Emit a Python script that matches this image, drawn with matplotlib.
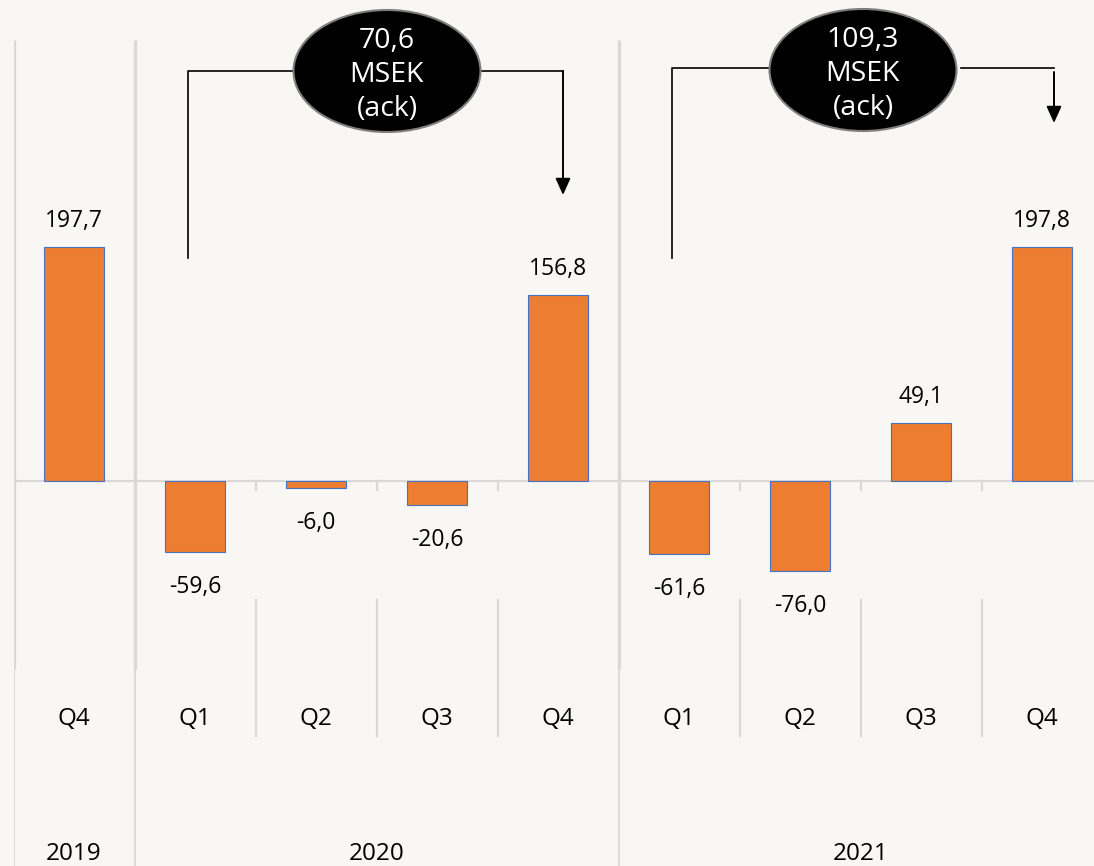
import matplotlib
matplotlib.use("Agg")
import matplotlib.pyplot as plt
from matplotlib.patches import Ellipse

# ---- data ----
years = ["2019", "2020", "2021"]
year_counts = [1, 4, 4]
quarters = ["Q4", "Q1", "Q2", "Q3", "Q4", "Q1", "Q2", "Q3", "Q4"]
values = [197.7, -59.6, -6.0, -20.6, 156.8, -61.6, -76.0, 49.1, 197.8]
cum_labels = [70.6, 109.3]

BG = "#F8F7F3"
ORANGE = "#ED7D31"
EDGE = "#4472C4"
GRID = "#D9D9D9"
FONT = ["Open Sans", "DejaVu Sans"]

W, H = 1094, 866
fig = plt.figure(figsize=(W / 100, H / 100), dpi=100, facecolor=BG)

# axes geometry in pixels
x0_px, cat_px = 13.5, 121.0
zero_px, unit_px = 481.0, 1.185
n = len(values)
ax = fig.add_axes([x0_px / W, 0, n * cat_px / W, 1])
ax.set_facecolor(BG)
ax.set_xlim(-0.5, n - 0.5)
ax.set_ylim(-(H - zero_px) / unit_px, zero_px / unit_px)
ax.axis("off")

def yfrac(px):
    return 1 - px / H

def ydata(px):
    return (zero_px - px) / unit_px

def xdata(px):
    return (px - x0_px) / cat_px - 0.5

xs = list(range(n))
ax.bar(xs, values, width=0.5, color=ORANGE, edgecolor=EDGE, linewidth=0.8, zorder=3)

# zero line
ax.axhline(0, color=GRID, lw=1.6, zorder=2)

# year separators
bounds = [-0.5]
acc = -0.5
for c in year_counts:
    acc += c
    bounds.append(acc)
tr = ax.get_xaxis_transform()
for b in bounds[:-1]:
    ax.plot([b, b], [yfrac(40), yfrac(669)], transform=tr, color=GRID, lw=2.4, zorder=1,
            solid_capstyle="butt")
    ax.plot([b, b], [yfrac(669), 0], transform=tr, color=GRID, lw=1.3, zorder=1,
            solid_capstyle="butt")

# quarter separators inside years
start = -0.5
for c in year_counts:
    for k in range(1, c):
        b = start + k
        ax.plot([b, b], [yfrac(481), yfrac(490)], transform=tr, color=GRID, lw=1.6, zorder=1)
        ax.plot([b, b], [yfrac(600), yfrac(736)], transform=tr, color=GRID, lw=1.6, zorder=1)
    start += c

# value labels
for x, v in zip(xs, values):
    lab = f"{v:.1f}".replace(".", ",")
    off = 26 if v >= 0 else -35
    ax.annotate(lab, (x, v), xytext=(0, off), textcoords="offset pixels",
                ha="center", va="center", fontsize=16.5, family=FONT, color="black", zorder=4)

# quarter labels
for x, q in zip(xs, quarters):
    ax.text(x, yfrac(719), q, transform=tr, ha="center", va="center",
            fontsize=17.5, family=FONT, color="black")

# year labels
start = -0.5
for y, c in zip(years, year_counts):
    ax.text(start + c / 2, yfrac(854), y, transform=tr, ha="center", va="center",
            fontsize=17.5, family=FONT, color="black")
    start += c

# cumulative callouts
callouts = [
    dict(cx=387, cy=71, left=188, right_start=480, arrow=563, hy=71, ldown=258, atop=71, atip=195),
    dict(cx=863, cy=70, left=672, right_start=961, arrow=1054, hy=68, ldown=258, atop=72, atip=123),
]
for val, c in zip(cum_labels, callouts):
    e = Ellipse((xdata(c["cx"]), ydata(c["cy"])), width=187 / cat_px, height=122 / unit_px,
                facecolor="black", edgecolor="#7F7F7F", lw=1.5, zorder=5)
    ax.add_patch(e)
    txt = f"{val:.1f}".replace(".", ",") + "\nMSEK\n(ack)"
    ax.text(xdata(c["cx"]), ydata(c["cy"] + 4), txt, ha="center", va="center", color="white",
            fontsize=20.5, family=FONT, linespacing=1.3, zorder=6)
    # left connector
    ax.plot([xdata(c["left"]), xdata(c["left"]), xdata(c["cx"] - 93)],
            [ydata(c["ldown"]), ydata(c["hy"]), ydata(c["hy"])], color="black", lw=1.2, zorder=4)
    # right connector
    ax.plot([xdata(c["right_start"]), xdata(c["arrow"])], [ydata(c["hy"]), ydata(c["hy"])],
            color="black", lw=1.2, zorder=4)
    ax.annotate("", xy=(xdata(c["arrow"]), ydata(c["atip"])),
                xytext=(xdata(c["arrow"]), ydata(c["atop"])),
                arrowprops=dict(arrowstyle="-|>,head_length=1.0,head_width=0.45",
                                color="black", lw=1.4, shrinkA=0, shrinkB=0), zorder=4)

fig.savefig("out.png", dpi=100, facecolor=BG)
